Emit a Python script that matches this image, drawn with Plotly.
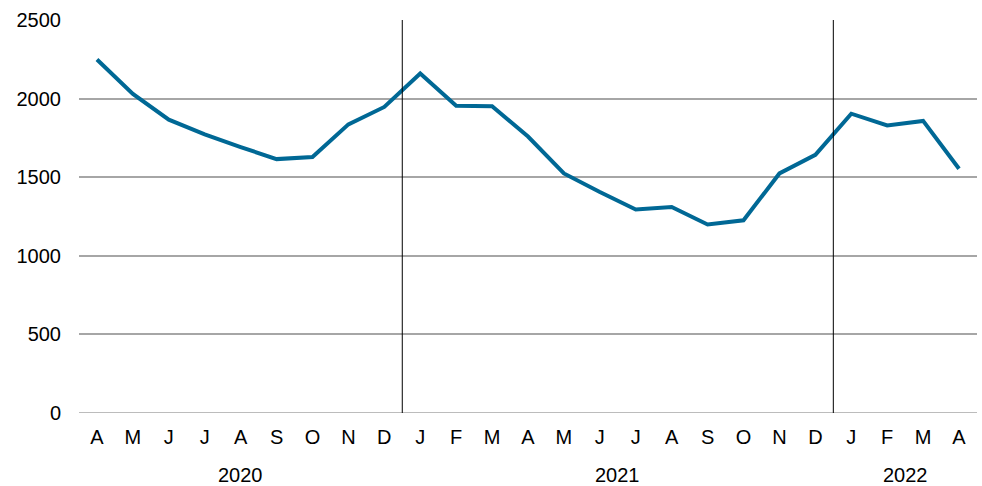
import plotly.graph_objects as go

months = ["A","M","J","J","A","S","O","N","D",
          "J","F","M","A","M","J","J","A","S","O","N","D",
          "J","F","M","A"]
years = ["2020", "2021", "2022"]
year_counts = [9, 12, 4]
values = [2249, 2030, 1866, 1772, 1692, 1615, 1628, 1836, 1947,
          2160, 1955, 1951, 1759, 1524, 1406, 1295, 1310, 1199, 1226, 1524, 1642,
          1904, 1829, 1858, 1554]
y_ticks = [0, 500, 1000, 1500, 2000, 2500]

FS = 20
xs = list(range(len(months)))
fig = go.Figure()
fig.add_trace(go.Scatter(x=xs, y=values, mode="lines",
                         line=dict(color="#006895", width=4)))

# year separators and labels
start = 0
for i, (yr, n) in enumerate(zip(years, year_counts)):
    center = start + (n - 1) / 2
    fig.add_annotation(x=center, y=0, xref="x", yref="paper", text=yr,
                       showarrow=False, yanchor="middle", yshift=-62, borderpad=0,
                       font=dict(size=FS, color="#000000"))
    if i < len(years) - 1:
        fig.add_shape(type="line", x0=start + n - 0.5, x1=start + n - 0.5,
                      y0=0, y1=2500, xref="x", yref="y",
                      line=dict(color="#000000", width=1))
    start += n

fig.update_layout(
    width=982, height=486,
    margin=dict(l=79, r=5, t=20, b=73),
    paper_bgcolor="white", plot_bgcolor="white",
    showlegend=False,
    font=dict(family="Liberation Sans, Arial, sans-serif", size=FS, color="#000000"),
    xaxis=dict(range=[-0.5, len(months) - 0.5], tickmode="array",
               tickvals=xs, ticktext=months, showgrid=False, zeroline=False,
               showline=False, ticks="", ticklabelstandoff=10, automargin=False),
    yaxis=dict(range=[0, 2500], tickvals=y_ticks, showgrid=True,
               gridcolor="#a6a6a6", gridwidth=1.5, zeroline=False,
               showline=False, ticks="", ticklabelstandoff=17, automargin=False),
)
fig.add_shape(type="line", x0=-0.5, x1=len(months) - 0.5, y0=0, y1=0,
              xref="x", yref="y", line=dict(color="#a6a6a6", width=1.5), layer="below")

fig.write_html("out.html", config={"displayModeBar": False})
with open("out.html", "r", encoding="utf-8") as f:
    html = f.read()
html = html.replace("<head>", "<head><style>html,body{margin:0;padding:0;overflow:hidden;}</style>", 1)
with open("out.html", "w", encoding="utf-8") as f:
    f.write(html)
